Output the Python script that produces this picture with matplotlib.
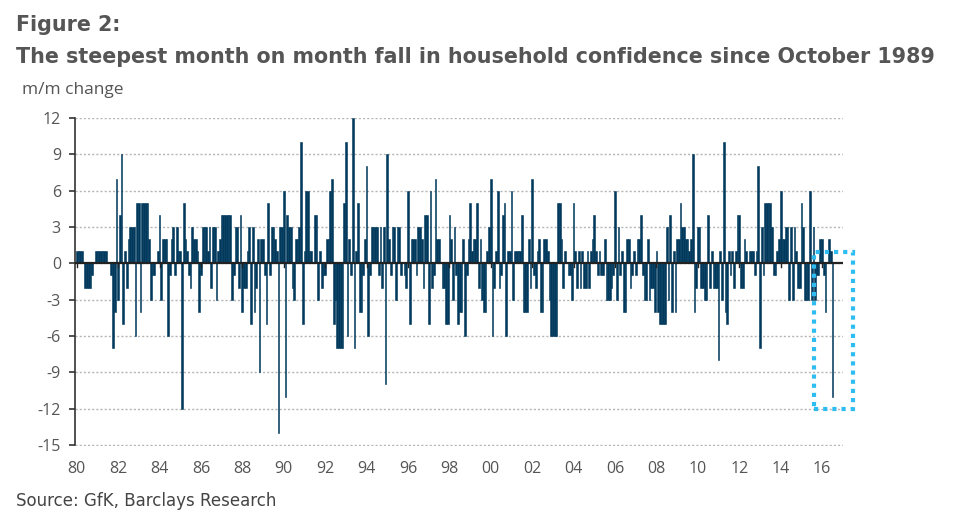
"""
Figure 2: m/m change in GfK household confidence, monthly bars 1980-2016
"""

import matplotlib.pyplot as plt
from matplotlib.patches import Rectangle
import numpy as np

# monthly m/m change (one row per year, Jan..Dec)
chg_1980s = [
    [1, 1, 1, 1, 0, -2, -2, -2, -2, -1, 0, 1],      # 1980
    [1, 1, 1, 1, 1, 1, 0, 0, -1, -7, -4, 7],        # 1981
    [-3, 4, 9, -5, 1, -2, 2, 3, 3, 3, -6, 5],       # 1982
    [5, -4, 5, 5, 5, 5, 2, -3, -1, -1, 0, 1],       # 1983
    [4, -3, 2, 2, 2, -6, -1, 2, 3, -1, 3, 1],       # 1984
    [1, -12, 5, 2, 1, -1, -2, 3, 2, 2, 1, -4],      # 1985
    [-1, 3, 3, 3, 1, 3, -2, 3, 3, -3, 1, 2],        # 1986
    [4, 4, 4, 4, 4, 4, -3, -1, 3, 3, -2, 4],        # 1987
    [-4, -2, -2, 1, 3, -5, 3, -4, -2, 2, -9, 2],    # 1988
    [2, -1, -5, 5, -1, 3, 3, 2, 1, -14, 3, 3],      # 1989
]
chg_1990s = [
    [6, -11, 4, 3, 3, -2, -3, 2, 2, 3, 10, -5],     # 1990
    [1, 6, 6, 1, 1, 0, 4, 4, -3, 1, -2, -1],        # 1991
    [-1, 2, 2, 6, 7, -5, -3, -7, -7, -7, -7, 5],    # 1992
    [10, -6, 2, -1, 12, -7, 1, 5, -4, -4, -1, 2],   # 1993
    [8, -6, -1, 3, 3, 3, 3, -1, 3, -2, 3, -10],     # 1994
    [9, 2, -1, 3, 3, -3, 3, 3, -1, 0, -1, -2],      # 1995
    [6, -5, 2, 2, 2, -1, 3, 3, 2, -2, 4, 4],        # 1996
    [-5, 6, -2, -1, 7, 2, 2, 0, -2, -2, -5, -5],    # 1997
    [4, 2, -3, 3, -1, -5, -4, -4, 2, -6, -1, 2],    # 1998
    [5, 1, 2, 2, 5, -2, 2, -3, -4, -4, 1, 3],       # 1999
]
chg_2000s = [
    [7, -6, -2, 1, 6, -2, -1, 4, 5, -6, 1, 1],      # 2000
    [6, -3, 1, 1, 1, 1, 4, -4, -4, -4, 2, -2],      # 2001
    [7, -1, -2, 1, 2, -4, -4, 2, 2, 1, -3, -6],     # 2002
    [-6, -6, -6, 5, 5, 2, -2, 1, 0, -1, -1, -3],    # 2003
    [5, 1, -2, 1, -2, 1, -2, -2, 1, -2, 1, 2],      # 2004
    [4, 1, -1, 1, -1, -1, 2, -3, -3, -3, -2, -1],   # 2005
    [6, -3, 3, -1, 1, -4, -4, 2, 2, -2, -1, 1],     # 2006
    [-1, 2, 2, 4, -1, -3, -3, 2, -3, -2, -2, -4],   # 2007
    [1, -4, -5, -5, -5, -5, 3, -3, 4, -4, 1, -4],   # 2008
    [2, 2, 5, 3, 3, 2, 2, 1, 2, 9, -4, -2],         # 2009
]
chg_2010s = [
    [3, 3, -2, -2, -3, -3, 4, -2, 1, -2, -2, -2],   # 2010
    [-8, 1, -3, 10, -4, -5, 1, -1, 1, -2, 1, 4],    # 2011
    [4, -2, -2, 2, 1, 0, 1, 1, 1, -1, 1, 8],        # 2012
    [-7, 3, -1, 5, 5, 5, 5, 3, -1, -1, 1, 2],       # 2013
    [6, 2, 2, 3, 3, -3, 3, -3, 3, 1, -2, -2],       # 2014
    [5, 3, -3, -3, -3, 6, -3, 3, -3, -1, -1, 2],    # 2015
    [2, -1, -4, 0, 2, 1, -11],                      # 2016 (to July)
]

year_ticks = list(range(1980, 2017, 2))
y_ticks = [12, 9, 6, 3, 0, -3, -6, -9, -12, -15]

values = np.array([v for decade in (chg_1980s, chg_1990s, chg_2000s, chg_2010s)
                   for row in decade for v in row], dtype=float)
t = 1980 + np.arange(len(values)) / 12 + 1 / 24

NAVY = "#00395c"
GREY = "#555555"

fig = plt.figure(figsize=(9.59, 5.28), dpi=100)
ax = fig.add_axes([0.078, 0.155, 0.801, 0.6215])

ax.bar(t, values, width=1 / 12, color=NAVY, edgecolor=NAVY, linewidth=0.4)
ax.axhline(0, color="#222222", lw=1.6, zorder=3)

# small year ticks on the zero line
for yr in year_ticks:
    ax.plot([yr + 1 / 24] * 2, [0, -0.3], color="#222222", lw=1, zorder=3)

ax.set_xlim(1979.95, 2017.05)
ax.set_ylim(-15.1, 12)
ax.set_yticks(y_ticks)
ax.set_yticklabels([str(v) for v in y_ticks])
ax.set_xticks([yr + 1 / 24 for yr in year_ticks])
ax.set_xticklabels([f"{yr % 100:02d}" for yr in year_ticks])

ax.grid(axis="y", color="#b5b5b5", linestyle=(0, (1.5, 1.5)), lw=1)
ax.set_axisbelow(True)
for s in ("top", "right", "bottom"):
    ax.spines[s].set_visible(False)
ax.spines["left"].set_color("#333333")
ax.spines["left"].set_linewidth(1.2)
ax.spines["left"].set_bounds(-15, 12)
ax.tick_params(axis="y", length=4, width=1.2, color="#333333", pad=6,
               labelsize=11.5, labelcolor=GREY)
ax.tick_params(axis="x", length=0, pad=11, labelsize=11.5, labelcolor=GREY)
for lab in ax.get_xticklabels() + ax.get_yticklabels():
    lab.set_family("Open Sans")

# dotted highlight box round the latest fall
box = Rectangle((2015.65, -12), 1.88, 12.95, fill=False, edgecolor="#2ebdf0",
                linestyle=(0, (1, 1.2)), lw=3, clip_on=False, zorder=4)
ax.add_patch(box)

fig.text(0.017, 0.941, "Figure 2:", fontsize=14.9, fontweight="bold",
         color=GREY, va="baseline")
fig.text(0.017, 0.881,
         "The steepest month on month fall in household confidence since October 1989",
         fontsize=14.9, fontweight="bold", color=GREY, va="baseline")
fig.text(0.023, 0.822, "m/m change", fontsize=12.5, color=GREY,
         va="baseline", family="Open Sans")
fig.text(0.017, 0.042, "Source: GfK, Barclays Research", fontsize=12,
         color="#444444", va="baseline")

fig.savefig("out.png", dpi=100)
